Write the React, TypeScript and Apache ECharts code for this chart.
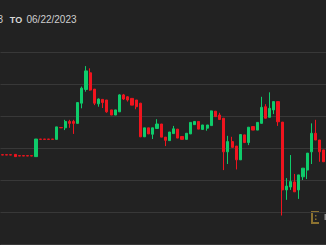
import React, { useEffect, useRef } from "react";
import * as echarts from "echarts";

const GREEN = "#0ecb6a";
const RED = "#f0141e";

const categories = Array.from({ length: 78 }, (_, i) => `T${i + 1}`);

const opens = [
  102.79, 102.79, 102.79, 102.8, 102.76, 102.76, 102.76, 102.76,
  102.73, 103.28, 103.28, 103.28, 103.28, 103.27, 103.64, 103.63,
  103.83, 103.83, 103.77, 104.4, 104.83, 105.35, 104.84, 104.38,
  104.52, 104.5, 104.19, 104.03, 104.13, 104.66, 104.6, 104.55,
  104.5, 104.4, 103.35, 103.63, 103.43, 103.61, 103.75, 103.34,
  103.23, 103.45, 103.59, 103.36, 103.27, 103.44, 103.73, 103.83,
  103.58, 103.62, 103.7, 104.15, 104.03, 103.93, 102.88, 103.2,
  103.06, 102.63, 103.41, 103.17, 103.67, 103.56, 103.77, 104.29,
  103.96, 104.19, 104.45, 103.81, 101.69, 101.78, 101.94, 101.69,
  102.1, 102.31, 102.88, 103.46, 103.25, 102.94,
];
const closes = [
  102.78, 102.78, 102.78, 102.73, 102.75, 102.75, 102.75, 102.75,
  103.28, 103.27, 103.27, 103.27, 103.27, 103.66, 103.63, 103.83,
  103.77, 103.77, 104.42, 104.87, 105.41, 104.81, 104.4, 104.53,
  104.42, 104.13, 104.03, 104.19, 104.66, 104.53, 104.5, 104.34,
  104.29, 103.35, 103.63, 103.44, 103.63, 103.75, 103.34, 103.24,
  103.5, 103.6, 103.31, 103.27, 103.46, 103.8, 103.83, 103.59,
  103.72, 103.72, 104.16, 103.98, 103.89, 102.88, 103.2, 103.02,
  102.63, 103.42, 103.17, 103.65, 103.56, 103.8, 104.27, 103.93,
  104.24, 104.45, 103.82, 101.69, 101.81, 101.95, 101.63, 102.16,
  102.37, 102.84, 103.46, 103.25, 102.88, 102.57,
];
const lows = [
  102.78, 102.78, 102.78, 102.73, 102.75, 102.75, 102.75, 102.75,
  102.73, 103.27, 103.27, 103.27, 103.27, 103.27, 103.63, 103.56,
  103.63, 103.44, 103.77, 104.24, 104.76, 104.79, 104.34, 104.29,
  104.25, 104.1, 104.03, 104.03, 104.13, 104.5, 104.45, 104.34,
  104.21, 103.34, 103.35, 103.44, 103.28, 103.61, 103.34, 103.06,
  103.23, 103.45, 103.31, 103.27, 103.27, 103.44, 103.73, 103.59,
  103.58, 103.54, 103.7, 103.98, 103.89, 102.31, 102.5, 103.02,
  102.33, 102.63, 103.17, 103.09, 103.56, 103.56, 103.77, 103.93,
  103.96, 104.06, 103.69, 100.89, 101.38, 101.69, 101.63, 101.41,
  102.0, 102.03, 102.5, 103.25, 102.57, 102.57,
];
const highs = [
  102.79, 102.79, 102.79, 102.8, 102.76, 102.76, 102.76, 102.76,
  103.28, 103.28, 103.28, 103.28, 103.28, 103.66, 103.64, 103.88,
  103.88, 103.88, 104.42, 104.92, 105.56, 105.49, 104.84, 104.55,
  104.52, 104.5, 104.19, 104.19, 104.68, 104.69, 104.62, 104.55,
  104.5, 104.41, 103.63, 103.63, 103.63, 103.9, 103.75, 103.34,
  103.5, 103.69, 103.59, 103.36, 103.46, 103.8, 103.83, 103.83,
  103.72, 103.72, 104.17, 104.15, 104.1, 103.93, 103.38, 103.35,
  103.06, 103.42, 103.41, 103.65, 103.67, 103.8, 104.6, 104.37,
  104.74, 104.45, 104.45, 103.81, 102.06, 102.78, 102.19, 102.16,
  102.37, 102.84, 103.77, 103.88, 103.25, 102.94,
];

const headerPrefix = "3";
const headerTo = "TO";
const headerDate = "06/22/2023";

export default function App() {
  const ref = useRef<HTMLDivElement>(null);
  useEffect(() => {
    document.body.style.margin = "0";
    document.body.style.background = "#222222";
    const chart = echarts.init(ref.current!, null, { renderer: "svg" });
    const gold = "#8c7230";
    chart.setOption({
      animation: false,
      backgroundColor: "#222222",
      grid: { left: 0.5, top: 52, width: 327, height: 192 },
      xAxis: {
        type: "category",
        data: categories,
        boundaryGap: true,
        axisLine: { show: false },
        axisTick: { show: false },
        axisLabel: { show: false },
        splitLine: { show: false },
      },
      yAxis: {
        type: "value",
        min: 100,
        max: 106,
        interval: 1,
        axisLine: { show: false },
        axisTick: { show: false },
        axisLabel: { show: false },
        splitLine: { show: true, lineStyle: { color: "#383838", width: 1 } },
      },
      graphic: [
        {
          type: "text",
          x: -2.6,
          y: 19,
          style: {
            text: headerPrefix,
            fill: "#cfcfcf",
            fontSize: 10,
            fontFamily: "Liberation Sans, Arial, sans-serif",
            verticalAlign: "middle",
          },
        },
        {
          type: "text",
          x: 9.8,
          y: 19.5,
          style: {
            text: headerTo,
            fill: "#d8d8d8",
            fontSize: 9,
            fontWeight: 700,
            fontFamily: "Liberation Sans, Arial, sans-serif",
            verticalAlign: "middle",
          },
        },
        {
          type: "text",
          x: 26.5,
          y: 19,
          style: {
            text: headerDate,
            fill: "#cfcfcf",
            fontSize: 10,
            fontFamily: "Liberation Sans, Arial, sans-serif",
            verticalAlign: "middle",
          },
        },
        { type: "rect", shape: { x: 311, y: 211, width: 8, height: 2 }, style: { fill: gold } },
        { type: "rect", shape: { x: 311, y: 222, width: 8, height: 2 }, style: { fill: gold } },
        { type: "rect", shape: { x: 311, y: 211, width: 2, height: 13 }, style: { fill: gold } },
        { type: "rect", shape: { x: 315, y: 215, width: 1.5, height: 1.5 }, style: { fill: gold } },
        { type: "rect", shape: { x: 315, y: 218.5, width: 1.5, height: 1.5 }, style: { fill: gold } },
        { type: "rect", shape: { x: 324.5, y: 214, width: 1.5, height: 6 }, style: { fill: "#8a8a8a" } },
      ],
      series: [
        {
          type: "candlestick",
          data: categories.map((_, i) => [opens[i], closes[i], lows[i], highs[i]]),
          barWidth: 2.6,
          itemStyle: {
            color: GREEN,
            color0: RED,
            borderColor: GREEN,
            borderColor0: RED,
            borderWidth: 1,
          },
        },
      ],
    });
    return () => chart.dispose();
  }, []);
  return <div ref={ref} style={{ width: 326, height: 245 }} />;
}
